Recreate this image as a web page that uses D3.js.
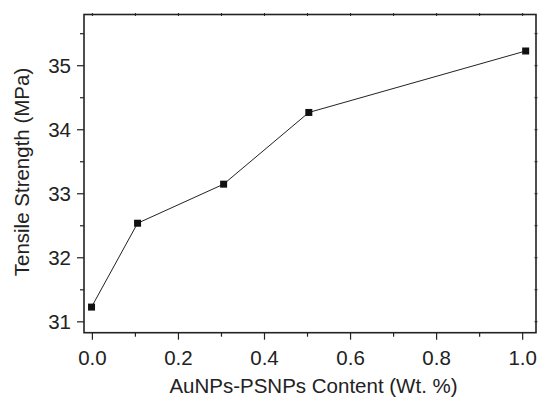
<!DOCTYPE html>
<html>
<head>
<meta charset="utf-8">
<script src="https://cdn.jsdelivr.net/npm/d3@7"></script>
<style>
  body { margin: 0; background: #fff; }
  svg { display: block; font-family: "Liberation Sans", Arial, sans-serif; }
</style>
</head>
<body>
<svg width="540" height="400"></svg>
<script>
// data
var content = [-0.002, 0.105, 0.305, 0.503, 1.007];
var strength = [31.23, 32.54, 33.15, 34.27, 35.23];
var xTicks = [0, 0.2, 0.4, 0.6, 0.8, 1.0];
var yTicks = [31, 32, 33, 34, 35];

var svg = d3.select("svg");
var pl = 84, pr = 536, pt = 14.5, pb = 332.7;

var x = d3.scaleLinear().domain([-0.0195, 1.031]).range([pl, pr]);
var y = d3.scaleLinear().domain([30.83, 35.8]).range([pb, pt]);

var ink = "#222";
var fs = 20.5;

// minor ticks
var xMinor = [0.1, 0.3, 0.5, 0.7, 0.9];
var yMinor = [31.5, 32.5, 33.5, 34.5, 35.5];

// bottom axis
var gx = svg.append("g").attr("transform", `translate(0,${pb})`);
gx.selectAll(".maj").data(xTicks).enter().append("line")
  .attr("x1", (d) => x(d)).attr("x2", (d) => x(d))
  .attr("y1", 0).attr("y2", 7).attr("stroke", ink).attr("stroke-width", 1.2);
gx.selectAll(".min").data(xMinor).enter().append("line")
  .attr("x1", (d) => x(d)).attr("x2", (d) => x(d))
  .attr("y1", 0).attr("y2", 4).attr("stroke", ink).attr("stroke-width", 1.2);
gx.selectAll("text").data(xTicks).enter().append("text")
  .attr("x", (d) => x(d)).attr("y", 32.5)
  .attr("text-anchor", "middle").attr("font-size", fs).attr("fill", ink)
  .text((d) => d.toFixed(1));

// left axis
var gy = svg.append("g").attr("transform", `translate(${pl},0)`);
gy.selectAll(".maj").data(yTicks).enter().append("line")
  .attr("y1", (d) => y(d)).attr("y2", (d) => y(d))
  .attr("x1", 0).attr("x2", -7).attr("stroke", ink).attr("stroke-width", 1.2);
gy.selectAll(".min").data(yMinor).enter().append("line")
  .attr("y1", (d) => y(d)).attr("y2", (d) => y(d))
  .attr("x1", 0).attr("x2", -4).attr("stroke", ink).attr("stroke-width", 1.2);
gy.selectAll("text").data(yTicks).enter().append("text")
  .attr("x", -13).attr("y", (d) => y(d)).attr("dy", "0.36em")
  .attr("text-anchor", "end").attr("font-size", fs).attr("fill", ink)
  .text((d) => d);

// tiny ticks on top and right
svg.selectAll(".tt").data(xTicks.concat(xMinor)).enter().append("line")
  .attr("x1", (d) => x(d)).attr("x2", (d) => x(d))
  .attr("y1", pt - 1.5).attr("y2", pt + 1.5).attr("stroke", ink).attr("stroke-width", 1);
svg.selectAll(".rt").data(yTicks.concat(yMinor)).enter().append("line")
  .attr("y1", (d) => y(d)).attr("y2", (d) => y(d))
  .attr("x1", pr - 1.5).attr("x2", pr + 1.5).attr("stroke", ink).attr("stroke-width", 1);

// frame
svg.append("rect")
  .attr("x", pl).attr("y", pt)
  .attr("width", pr - pl).attr("height", pb - pt)
  .attr("fill", "none").attr("stroke", ink).attr("stroke-width", 1.6);

// line + markers
var pts = content.map((c, i) => [c, strength[i]]);
svg.append("path")
  .datum(pts)
  .attr("fill", "none").attr("stroke", "#222").attr("stroke-width", 1)
  .attr("d", d3.line().x((d) => x(d[0])).y((d) => y(d[1])));
svg.selectAll(".pt").data(pts).enter().append("rect")
  .attr("x", (d) => x(d[0]) - 3.5).attr("y", (d) => y(d[1]) - 3.5)
  .attr("width", 7).attr("height", 7).attr("fill", "#111");

// axis titles
svg.append("text")
  .attr("x", 313.5).attr("y", 393)
  .attr("text-anchor", "middle").attr("font-size", fs).attr("fill", ink)
  .text("AuNPs-PSNPs Content (Wt. %)");
svg.append("text")
  .attr("transform", "translate(28.5,172) rotate(-90)")
  .attr("text-anchor", "middle").attr("font-size", fs).attr("fill", ink)
  .text("Tensile Strength (MPa)");
</script>
</body>
</html>
